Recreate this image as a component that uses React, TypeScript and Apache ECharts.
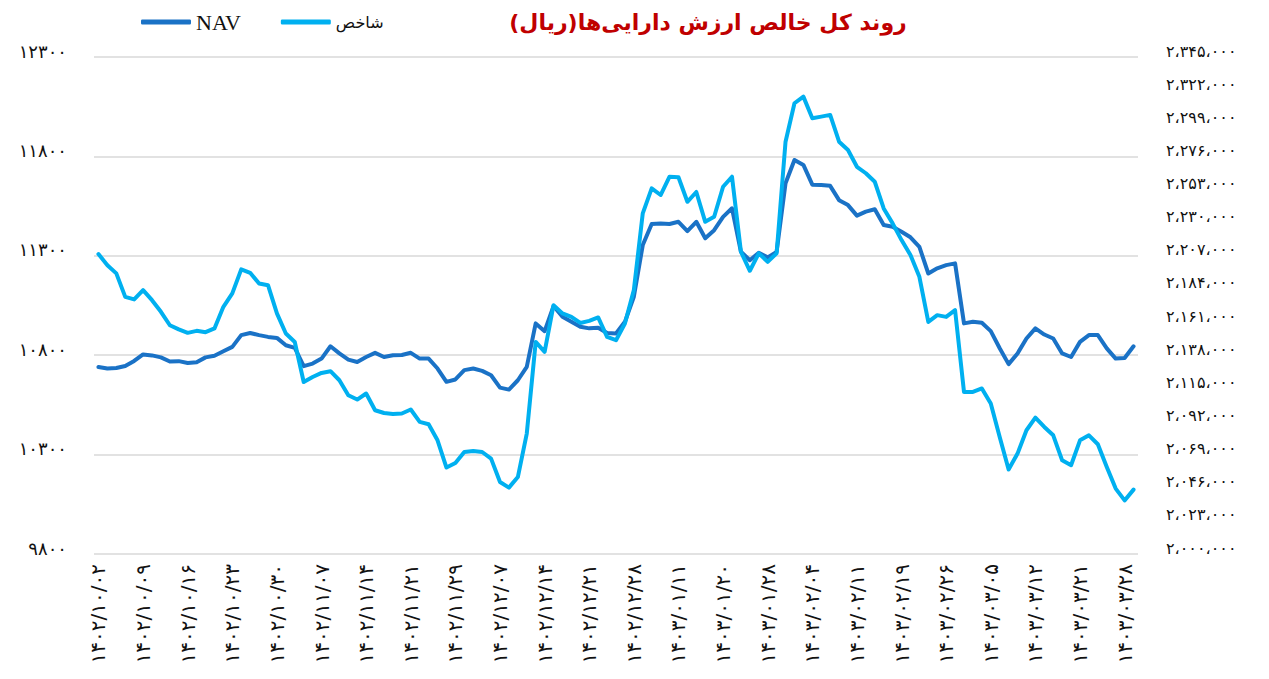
import React, { useEffect, useRef } from "react";
import * as echarts from "echarts";

const titleText = "روند کل خالص ارزش دارایی‌ها(ریال)\u200F";
const seriesNames = ["NAV", "شاخص"];

const categories = [
  "۱۴۰۲/۱۰/۰۲","۱۴۰۲/۱۰/۰۳","۱۴۰۲/۱۰/۰۴","۱۴۰۲/۱۰/۰۵","۱۴۰۲/۱۰/۰۶",
  "۱۴۰۲/۱۰/۰۹","۱۴۰۲/۱۰/۱۰","۱۴۰۲/۱۰/۱۱","۱۴۰۲/۱۰/۱۲","۱۴۰۲/۱۰/۱۳",
  "۱۴۰۲/۱۰/۱۶","۱۴۰۲/۱۰/۱۷","۱۴۰۲/۱۰/۱۸","۱۴۰۲/۱۰/۱۹","۱۴۰۲/۱۰/۲۰",
  "۱۴۰۲/۱۰/۲۳","۱۴۰۲/۱۰/۲۴","۱۴۰۲/۱۰/۲۵","۱۴۰۲/۱۰/۲۶","۱۴۰۲/۱۰/۲۷",
  "۱۴۰۲/۱۰/۳۰","۱۴۰۲/۱۱/۰۱","۱۴۰۲/۱۱/۰۲","۱۴۰۲/۱۱/۰۳","۱۴۰۲/۱۱/۰۴",
  "۱۴۰۲/۱۱/۰۷","۱۴۰۲/۱۱/۰۸","۱۴۰۲/۱۱/۰۹","۱۴۰۲/۱۱/۱۰","۱۴۰۲/۱۱/۱۱",
  "۱۴۰۲/۱۱/۱۴","۱۴۰۲/۱۱/۱۵","۱۴۰۲/۱۱/۱۶","۱۴۰۲/۱۱/۱۷","۱۴۰۲/۱۱/۱۸",
  "۱۴۰۲/۱۱/۲۱","۱۴۰۲/۱۱/۲۳","۱۴۰۲/۱۱/۲۴","۱۴۰۲/۱۱/۲۵","۱۴۰۲/۱۱/۲۸",
  "۱۴۰۲/۱۱/۲۹","۱۴۰۲/۱۱/۳۰","۱۴۰۲/۱۲/۰۱","۱۴۰۲/۱۲/۰۲","۱۴۰۲/۱۲/۰۶",
  "۱۴۰۲/۱۲/۰۷","۱۴۰۲/۱۲/۰۸","۱۴۰۲/۱۲/۰۹","۱۴۰۲/۱۲/۱۲","۱۴۰۲/۱۲/۱۳",
  "۱۴۰۲/۱۲/۱۴","۱۴۰۲/۱۲/۱۵","۱۴۰۲/۱۲/۱۶","۱۴۰۲/۱۲/۱۹","۱۴۰۲/۱۲/۲۰",
  "۱۴۰۲/۱۲/۲۱","۱۴۰۲/۱۲/۲۲","۱۴۰۲/۱۲/۲۵","۱۴۰۲/۱۲/۲۶","۱۴۰۲/۱۲/۲۷",
  "۱۴۰۲/۱۲/۲۸","۱۴۰۳/۰۱/۰۵","۱۴۰۳/۰۱/۰۶","۱۴۰۳/۰۱/۰۷","۱۴۰۳/۰۱/۰۸",
  "۱۴۰۳/۰۱/۱۱","۱۴۰۳/۰۱/۱۴","۱۴۰۳/۰۱/۱۵","۱۴۰۳/۰۱/۱۸","۱۴۰۳/۰۱/۱۹",
  "۱۴۰۳/۰۱/۲۰","۱۴۰۳/۰۱/۲۱","۱۴۰۳/۰۱/۲۵","۱۴۰۳/۰۱/۲۶","۱۴۰۳/۰۱/۲۷",
  "۱۴۰۳/۰۱/۲۸","۱۴۰۳/۰۱/۲۹","۱۴۰۳/۰۲/۰۱","۱۴۰۳/۰۲/۰۲","۱۴۰۳/۰۲/۰۳",
  "۱۴۰۳/۰۲/۰۴","۱۴۰۳/۰۲/۰۵","۱۴۰۳/۰۲/۰۸","۱۴۰۳/۰۲/۰۹","۱۴۰۳/۰۲/۱۰",
  "۱۴۰۳/۰۲/۱۱","۱۴۰۳/۰۲/۱۲","۱۴۰۳/۰۲/۱۶","۱۴۰۳/۰۲/۱۷","۱۴۰۳/۰۲/۱۸",
  "۱۴۰۳/۰۲/۱۹","۱۴۰۳/۰۲/۲۲","۱۴۰۳/۰۲/۲۳","۱۴۰۳/۰۲/۲۴","۱۴۰۳/۰۲/۲۵",
  "۱۴۰۳/۰۲/۲۶","۱۴۰۳/۰۲/۲۹","۱۴۰۳/۰۲/۳۰","۱۴۰۳/۰۲/۳۱","۱۴۰۳/۰۳/۰۱",
  "۱۴۰۳/۰۳/۰۵","۱۴۰۳/۰۳/۰۶","۱۴۰۳/۰۳/۰۷","۱۴۰۳/۰۳/۰۸","۱۴۰۳/۰۳/۰۹",
  "۱۴۰۳/۰۳/۱۲","۱۴۰۳/۰۳/۱۳","۱۴۰۳/۰۳/۱۶","۱۴۰۳/۰۳/۱۹","۱۴۰۳/۰۳/۲۰",
  "۱۴۰۳/۰۳/۲۱","۱۴۰۳/۰۳/۲۲","۱۴۰۳/۰۳/۲۳","۱۴۰۳/۰۳/۲۶","۱۴۰۳/۰۳/۲۷",
  "۱۴۰۳/۰۳/۲۸","۱۴۰۳/۰۳/۳۰",
];

const navValues = [
  10741, 10733, 10736, 10746, 10771,
  10804, 10799, 10789, 10768, 10770,
  10761, 10765, 10789, 10797, 10820,
  10842, 10901, 10912, 10901, 10892,
  10887, 10850, 10837, 10745, 10758,
  10783, 10845, 10809, 10778, 10766,
  10791, 10812, 10791, 10800, 10801,
  10812, 10783, 10783, 10733, 10666,
  10678, 10725, 10733, 10721, 10699,
  10637, 10627, 10674, 10741, 10960,
  10921, 11047, 10993, 10968, 10943,
  10935, 10938, 10912, 10909, 10968,
  11094, 11354, 11460, 11463, 11460,
  11471, 11424, 11471, 11388, 11429,
  11496, 11539, 11320, 11278, 11315,
  11292, 11320, 11665, 11782, 11757,
  11658, 11656, 11652, 11580, 11555,
  11502, 11522, 11534, 11455, 11446,
  11421, 11393, 11345, 11211, 11237,
  11253, 11262, 10960, 10968, 10963,
  10921, 10835, 10755, 10809, 10884,
  10935, 10904, 10884, 10809, 10791,
  10867, 10901, 10901, 10834, 10783,
  10786, 10845,
];

const indexValues = [
  2208200, 2200500, 2194800, 2178500, 2176700,
  2183200, 2176200, 2168100, 2158800, 2155900,
  2153500, 2154900, 2154000, 2156600, 2171600,
  2180900, 2197600, 2195200, 2187800, 2186600,
  2167000, 2153100, 2147200, 2119400, 2122900,
  2125700, 2126900, 2120600, 2110200, 2107200,
  2111400, 2099800, 2097900, 2097200, 2097500,
  2100300, 2091700, 2090100, 2078900, 2060000,
  2063200, 2070800, 2071500, 2070800, 2066200,
  2050000, 2046100, 2053400, 2083600, 2147200,
  2140300, 2172700, 2167000, 2164600, 2160400,
  2161800, 2164200, 2150700, 2148400, 2160000,
  2183200, 2236500, 2253800, 2249200, 2261900,
  2261500, 2244500, 2251300, 2230600, 2234100,
  2254900, 2261900, 2209800, 2196600, 2208700,
  2202800, 2208700, 2286200, 2312900, 2317500,
  2302500, 2303600, 2304800, 2286200, 2280400,
  2268800, 2264300, 2258400, 2239900, 2229500,
  2217900, 2207500, 2192400, 2161100, 2165800,
  2164600, 2169300, 2112500, 2112500, 2114900,
  2104400, 2081200, 2058600, 2069700, 2085900,
  2094700, 2088200, 2082400, 2065000, 2061600,
  2078900, 2082400, 2076200, 2060400, 2045400,
  2037200, 2044700,
];

const leftTicks = [9800, 10300, 10800, 11300, 11800, 12300];
const rightTicks = [
  2000000, 2023000, 2046000, 2069000, 2092000, 2115000, 2138000, 2161000,
  2184000, 2207000, 2230000, 2253000, 2276000, 2299000, 2322000, 2345000,
];

const FA_DIGITS = "۰۱۲۳۴۵۶۷۸۹";
const toFa = (s: string) => s.replace(/\d/g, (d) => FA_DIGITS[Number(d)]);
const groupFa = (n: number) =>
  toFa(String(Math.round(n)).replace(/\B(?=(\d{3})+(?!\d))/g, "،"));

const NAV_COLOR = "#1A72C6";
const IDX_COLOR = "#00B0F0";
const FONT = "DejaVu Sans";

export default function App() {
  const ref = useRef<HTMLDivElement>(null);

  useEffect(() => {
    if (!ref.current) return;
    const chart = echarts.init(ref.current, undefined, { renderer: "svg" });
    chart.setOption({
      animation: false,
      backgroundColor: "#ffffff",
      grid: { left: 94, right: 131, top: 57, bottom: 125, containLabel: false },
      graphic: [
        {
          type: "text",
          x: 708,
          y: 22,
          style: {
            text: titleText,
            fill: "#C00000",
            fontSize: 22,
            fontWeight: "bold",
            fontFamily: FONT,
            align: "center",
            verticalAlign: "middle",
          },
        },
      ],
      legend: {
        left: 136,
        top: 6,
        itemWidth: 50,
        itemHeight: 5,
        itemGap: 40,
        icon: "roundRect",
        data: seriesNames,
        formatter: (name: string) =>
          name === "NAV" ? `{a|${name}}` : `{b|${name}}`,
        textStyle: {
          rich: {
            a: { fontFamily: "Liberation Serif", fontSize: 22, color: "#111" },
            b: { fontFamily: FONT, fontSize: 16, color: "#111" },
          },
        },
      },
      xAxis: {
        type: "category",
        data: categories,
        boundaryGap: true,
        axisLine: { show: false },
        axisTick: { show: false },
        axisLabel: {
          interval: 4,
          rotate: 90,
          margin: 10,
          fontSize: 20,
          fontFamily: FONT,
          color: "#111",
        },
      },
      yAxis: [
        {
          type: "value",
          min: 9800,
          max: 12300,
          position: "left",
          axisLine: { show: false },
          axisTick: { show: false, customValues: leftTicks },
          splitLine: { show: true, lineStyle: { color: "#D9D9D9", width: 1.5 } },
          axisLabel: {
            customValues: leftTicks,
            margin: 27,
            fontSize: 18,
            fontFamily: FONT,
            color: "#111",
            verticalAlign: "bottom",
            lineHeight: 12,
            formatter: (v: number) => toFa(String(v)),
          },
        },
        {
          type: "value",
          min: 2000000,
          max: 2345000,
          position: "right",
          axisLine: { show: false },
          axisTick: { show: false, customValues: rightTicks },
          splitLine: { show: false },
          axisLabel: {
            customValues: rightTicks,
            margin: 28,
            fontSize: 16,
            fontFamily: FONT,
            color: "#111",
            verticalAlign: "bottom",
            lineHeight: 12,
            formatter: (v: number) => groupFa(v),
          },
        },
      ],
      series: [
        {
          name: seriesNames[0],
          type: "line",
          yAxisIndex: 0,
          data: navValues,
          showSymbol: false,
          symbol: "none",
          color: NAV_COLOR,
          lineStyle: { width: 4, color: NAV_COLOR, cap: "round", join: "round" },
        },
        {
          name: seriesNames[1],
          type: "line",
          yAxisIndex: 1,
          data: indexValues,
          showSymbol: false,
          symbol: "none",
          color: IDX_COLOR,
          lineStyle: { width: 4, color: IDX_COLOR, cap: "round", join: "round" },
        },
      ],
    });
    return () => chart.dispose();
  }, []);

  return (
    <div
      ref={ref}
      style={{ position: "absolute", left: 0, top: 0, width: 1269, height: 679 }}
    />
  );
}
